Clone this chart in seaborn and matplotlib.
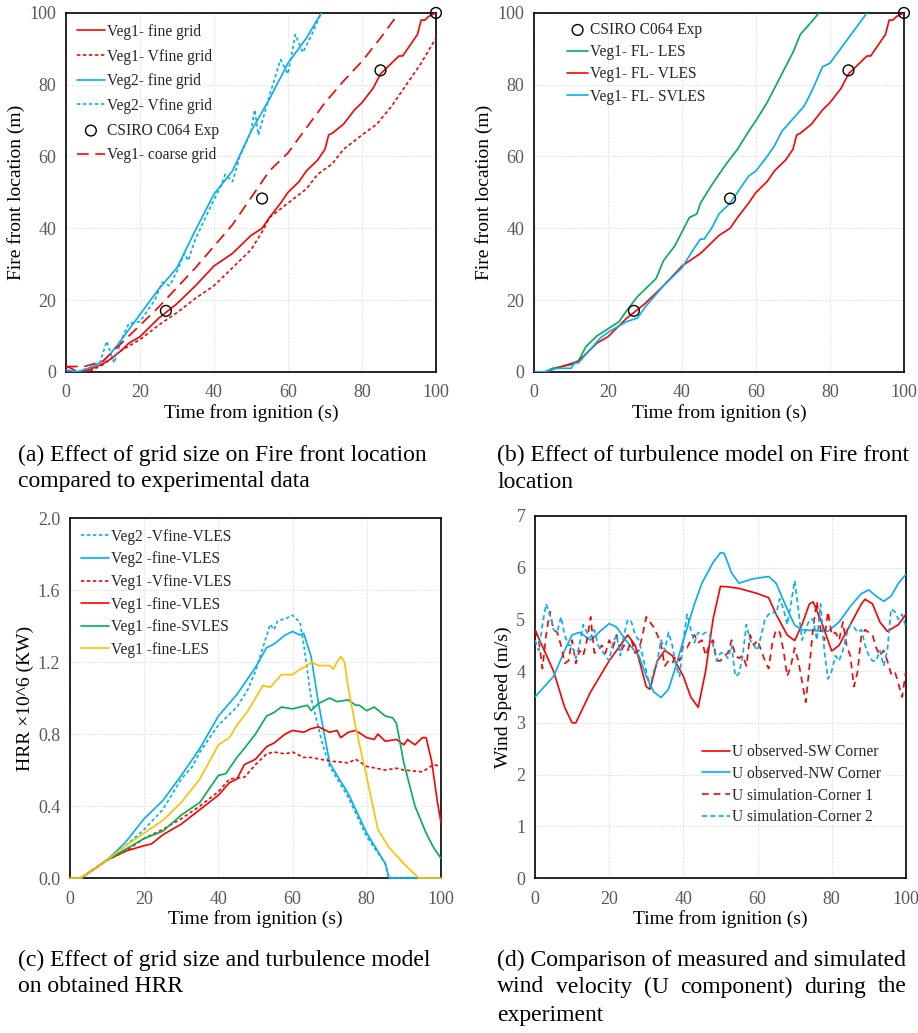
import numpy as np
import pandas as pd
import seaborn as sns
import matplotlib.pyplot as plt

# ---- (a) fire front location, grid size ----
t_v1_fine = [0, 1, 3, 6, 10, 12, 15, 17, 20, 25, 30, 35, 40, 45, 50, 53, 55, 58, 60, 63, 65, 68, 70, 71, 72, 75, 78, 80, 83, 85, 88, 90, 91, 93, 95, 96, 97, 98, 100]
y_v1_fine = [1.5, 1.2, 0, 0.5, 2.3, 3.5, 6, 8, 9.8, 14.9, 19, 24, 29.5, 33, 38, 40, 43, 47, 50, 53, 56, 59, 62, 66, 66.5, 69, 73, 75, 79, 83, 86, 88, 88, 91, 94, 98, 98, 99, 100]
t_v1_vfine = [0, 3, 6, 10, 15, 20, 25, 30, 35, 40, 45, 50, 53, 55, 60, 65, 68, 72, 75, 80, 84, 88, 92, 96, 100]
y_v1_vfine = [0, 0, 0, 2, 6, 9, 13, 16.5, 20.5, 24, 29, 34, 39, 43, 47, 51, 55, 58, 62, 66, 69, 74, 80, 86, 93]
t_v1_coarse = [0, 5, 10, 15, 20, 25, 30, 35, 40, 45, 50, 55, 60, 65, 70, 75, 80, 85, 90]
y_v1_coarse = [1.5, 1.5, 3, 8, 13, 18, 23.5, 29, 35, 41, 48.5, 56, 61, 68, 75, 81, 86.5, 93, 100]
t_v2_fine = [0, 3, 6, 10, 12, 15, 20, 25, 30, 35, 40, 45, 50, 55, 60, 65, 69]
y_v2_fine = [0.5, 0, 1, 3, 5, 9, 16, 23, 29, 39.5, 49.5, 56, 67, 76, 86, 93, 100]
t_v2_vfine = [0, 3, 6, 9, 11, 13, 15, 17, 20, 24, 26, 28, 30, 32, 33, 35, 40, 42, 43, 45, 47, 50, 51, 52, 55, 58, 60, 62, 64, 66, 69]
y_v2_vfine = [0.5, 0, 1, 2, 8.5, 2.5, 9, 13.5, 14, 20, 25, 24, 28, 33, 31, 37, 48, 52, 55, 53, 60, 67, 73, 66, 77, 87, 83, 94, 89, 93, 100]
t_exp = [27, 53, 85, 100]
y_exp = [17, 48.3, 84, 100]

# ---- (b) fire front location, turbulence model ----
t_les = [0, 3, 5, 10, 12, 14, 17, 20, 23, 25, 28, 30, 33, 35, 38, 40, 42, 44, 45, 48, 50, 52, 55, 58, 60, 63, 65, 68, 70, 72, 75, 77]
y_les = [0, 0, 1, 2, 3, 7, 10, 12, 14, 17, 21, 23, 26, 31, 35, 39, 43, 44, 47, 52, 55, 58, 62, 67, 70, 75, 79, 85, 89, 94, 97.5, 100]
t_vles = [0, 3, 6, 10, 12, 15, 17, 20, 25, 30, 35, 40, 45, 50, 53, 55, 58, 60, 63, 65, 68, 70, 71, 72, 75, 78, 80, 83, 85, 88, 90, 91, 93, 95, 96, 97, 98, 100]
y_vles = [0, 0, 1, 2.3, 3, 6, 8, 9.8, 14.9, 19, 24, 29.5, 33, 38, 40, 43, 47, 50, 53, 56, 59, 62, 66, 66.5, 69, 73, 75, 79, 83, 86, 88, 88, 91, 94, 98, 98, 99, 100]
t_sv = [0, 3, 6, 10, 11, 12, 15, 18, 20, 25, 28, 30, 35, 40, 43, 45, 46, 48, 50, 53, 55, 58, 60, 63, 65, 67, 70, 73, 75, 78, 80, 85, 90]
y_sv = [0, 0, 1, 1, 2.5, 2.5, 6, 9.5, 11, 14, 15, 18, 24, 29, 34, 37, 37, 40, 44, 47, 50, 54.5, 56, 60, 63, 67, 70.5, 74, 78, 85, 86, 93, 100]

# ---- (c) HRR ----
t_c1 = [0, 3, 5, 10, 15, 20, 25, 30, 33, 35, 40, 45, 48, 50, 52, 54, 55, 56, 58, 60, 62, 63, 65, 68, 70, 75, 80, 85, 86, 100]
h_v2_vfine = [0, 0, 0.03, 0.1, 0.18, 0.27, 0.38, 0.55, 0.62, 0.7, 0.85, 0.95, 1.05, 1.15, 1.28, 1.41, 1.38, 1.43, 1.44, 1.46, 1.42, 1.3, 1.0, 0.75, 0.62, 0.45, 0.23, 0.08, 0.0, 0.0]
t_c2 = [0, 3, 10, 15, 20, 25, 30, 35, 40, 45, 50, 53, 55, 58, 60, 62, 63, 65, 67, 70, 72, 75, 80, 85, 86, 100]
h_v2_fine = [0, 0, 0.1, 0.2, 0.33, 0.43, 0.57, 0.72, 0.9, 1.02, 1.17, 1.28, 1.3, 1.35, 1.37, 1.35, 1.36, 1.23, 0.97, 0.64, 0.57, 0.47, 0.25, 0.08, 0.0, 0.0]
t_c3 = [0, 3, 10, 15, 20, 25, 30, 35, 40, 43, 47, 50, 53, 55, 58, 60, 63, 65, 70, 75, 77, 80, 85, 88, 90, 95, 98, 100]
h_v1_vfine = [0, 0, 0.1, 0.15, 0.22, 0.27, 0.33, 0.4, 0.48, 0.55, 0.56, 0.63, 0.69, 0.7, 0.69, 0.7, 0.67, 0.67, 0.65, 0.64, 0.66, 0.62, 0.6, 0.61, 0.6, 0.59, 0.63, 0.62]
t_c4 = [0, 3, 10, 15, 20, 22, 25, 30, 35, 40, 43, 45, 47, 50, 53, 55, 58, 60, 63, 65, 67, 70, 72, 73, 75, 77, 80, 82, 83, 85, 88, 90, 91, 93, 95, 96, 97.5, 99, 100]
h_v1_fine = [0, 0, 0.1, 0.15, 0.18, 0.19, 0.24, 0.3, 0.38, 0.46, 0.53, 0.55, 0.63, 0.66, 0.73, 0.75, 0.8, 0.82, 0.81, 0.83, 0.84, 0.81, 0.82, 0.78, 0.81, 0.82, 0.78, 0.77, 0.8, 0.76, 0.77, 0.74, 0.77, 0.74, 0.78, 0.78, 0.65, 0.43, 0.31]
t_c5 = [0, 3, 10, 15, 20, 25, 30, 35, 40, 42, 45, 47, 50, 53, 55, 57, 60, 62, 64, 65, 67, 70, 72, 75, 77, 78, 80, 82, 85, 87, 88, 90, 93, 96, 98, 100]
h_svles = [0, 0, 0.1, 0.16, 0.22, 0.26, 0.35, 0.42, 0.57, 0.58, 0.67, 0.72, 0.8, 0.9, 0.92, 0.95, 0.94, 0.95, 0.96, 0.93, 0.97, 1.0, 0.98, 0.99, 0.96, 0.96, 0.93, 0.95, 0.9, 0.89, 0.86, 0.64, 0.4, 0.25, 0.17, 0.11]
t_c6 = [0, 3, 10, 15, 20, 25, 30, 35, 40, 43, 45, 48, 50, 52, 54, 57, 60, 62, 64, 65, 67, 70, 71, 72, 73, 74, 75, 77, 80, 83, 86, 90, 94, 100]
h_les = [0, 0, 0.1, 0.18, 0.25, 0.32, 0.42, 0.55, 0.74, 0.78, 0.85, 0.93, 1.0, 1.07, 1.06, 1.13, 1.13, 1.16, 1.18, 1.2, 1.18, 1.18, 1.16, 1.2, 1.23, 1.2, 1.06, 0.84, 0.56, 0.27, 0.17, 0.08, 0.0, 0.0]

# ---- (d) wind speed ----
t_sw = [0, 5, 8, 10, 11, 13, 15, 20, 25, 27, 30, 31, 33, 35, 37, 40, 42, 44, 46, 48, 50, 52, 55, 60, 63, 65, 68, 70, 72, 74, 75, 77, 80, 82, 85, 88, 89, 91, 93, 95, 98, 100]
u_sw = [4.8, 4.0, 3.3, 3.0, 3.0, 3.3, 3.6, 4.2, 4.7, 4.5, 3.7, 3.65, 4.2, 4.4, 4.3, 3.9, 3.5, 3.3, 4.0, 5.0, 5.64, 5.63, 5.6, 5.5, 5.42, 5.1, 4.7, 4.59, 4.9, 5.3, 5.34, 5.0, 4.39, 4.5, 4.9, 5.3, 5.39, 5.3, 4.95, 4.77, 4.9, 5.1]
t_nw = [0, 5, 8, 10, 12, 15, 18, 20, 22, 25, 28, 30, 32, 34, 36, 38, 40, 43, 45, 48, 50, 51, 53, 55, 58, 60, 63, 65, 68, 70, 72, 76, 79, 82, 85, 88, 90, 92, 94, 96, 98, 100]
u_nw = [3.5, 3.9, 4.4, 4.7, 4.75, 4.6, 4.8, 4.92, 4.85, 4.55, 4.3, 3.9, 3.6, 3.49, 3.65, 4.1, 4.6, 5.3, 5.7, 6.1, 6.29, 6.28, 5.9, 5.7, 5.77, 5.8, 5.83, 5.7, 5.2, 4.89, 4.8, 4.78, 4.77, 4.95, 5.25, 5.5, 5.57, 5.45, 5.35, 5.45, 5.7, 5.87]
t_sim = list(range(0, 101))
u_sim1 = [4.8, 4.6, 4.05, 4.7, 5.15, 4.8, 4.75, 4.5, 4.15, 4.2, 4.6, 4.15, 4.4, 4.3, 4.6, 5.05, 4.35, 4.4, 4.5, 4.35,
          4.6, 4.45, 4.7, 4.35, 4.5, 4.4, 4.6, 4.35, 4.4, 4.7, 5.05, 4.95, 4.85, 4.7, 4.5, 4.1, 4.2, 4.15, 4.3, 4.2,
          4.5, 4.45, 4.6, 4.7, 4.55, 4.6, 4.3, 4.5, 4.6, 4.2, 4.2, 4.3, 4.35, 4.6, 4.3, 4.25, 4.3, 4.1, 4.7, 4.5,
          4.6, 4.4, 4.2, 4.05, 4.55, 4.8, 4.75, 4.4, 3.9, 4.1, 4.45, 4.2, 3.8, 3.4, 4.1, 4.85, 5.35, 4.8, 4.6, 5.15,
          4.7, 4.75, 4.6, 4.95, 4.5, 4.3, 3.7, 4.0, 4.7, 4.8, 4.75, 4.7, 4.45, 4.3, 4.4, 4.2, 3.95, 4.0, 3.75, 3.5, 4.0]
u_sim2 = [4.6, 4.4, 4.9, 5.3, 5.1, 4.8, 4.75, 5.05, 4.7, 4.5, 4.5, 4.25, 4.5, 4.9, 4.75, 4.65, 4.8, 4.5, 4.4, 4.3,
          4.2, 4.55, 4.7, 4.3, 4.7, 5.0, 4.95, 4.7, 4.6, 4.3, 4.0, 3.7, 4.0, 4.2, 4.6, 4.4, 4.75, 4.5, 4.1, 3.9,
          4.6, 5.1, 4.8, 4.55, 4.75, 4.7, 4.75, 4.7, 4.5, 4.2, 4.35, 4.35, 4.25, 4.5, 3.9, 3.95, 4.3, 4.9, 4.6, 4.5,
          4.4, 4.7, 5.0, 5.1, 5.15, 5.1, 5.4, 5.2, 4.9, 5.3, 5.75, 5.2, 4.6, 4.8, 5.0, 5.0, 4.6, 5.3, 4.4, 3.85,
          4.0, 4.3, 4.2, 4.4, 4.7, 4.9, 4.85, 4.75, 4.8, 4.5, 4.3, 4.2, 4.2, 4.4, 4.1, 4.4, 5.2, 5.15, 5.0, 5.1, 4.85]

captions = {
    "a": ["(a) Effect of grid size on Fire front location", "compared to experimental data"],
    "b": ["(b) Effect of turbulence model on Fire front", "location"],
    "c": ["(c) Effect of grid size and turbulence model", "on obtained HRR"],
    "d": ["(d) Comparison of measured and simulated", "wind velocity (U component) during the", "experiment"],
}

RED = "#FF0000"
BLUE = "#00B0F0"
GREEN = "#00B050"
GOLD = "#FFC000"
DOT = (0, (2, 1.6))

sns.set_theme(style="white")
plt.rcParams["font.family"] = ["Liberation Serif", "DejaVu Serif"]

fig = plt.figure(figsize=(9.18, 10.33), dpi=100)
ax_a = fig.add_axes([0.0719, 0.640, 0.403, 0.3475])
ax_b = fig.add_axes([0.5817, 0.640, 0.403, 0.3475])
ax_c = fig.add_axes([0.0763, 0.150, 0.404, 0.3485])
ax_d = fig.add_axes([0.5828, 0.150, 0.404, 0.3505])


def line(ax, x, y, color, label, ls="-", clip=True):
    sns.lineplot(x=x, y=y, ax=ax, color=color, linestyle=ls, linewidth=1.2, label=label,
                 clip_on=clip, zorder=3)


def exp_points(ax):
    sns.scatterplot(x=t_exp, y=y_exp, ax=ax, marker="o", s=60, facecolor="none",
                    edgecolor="black", linewidth=1.0, label="CSIRO C064 Exp", zorder=5, clip_on=False)


def style(ax, ylim, yticks, ylabel, yfmt="{:g}"):
    ax.set_xlim(0, 100)
    ax.set_ylim(*ylim)
    ax.set_xticks(range(0, 101, 20))
    ax.set_yticks(yticks)
    ax.set_yticklabels([yfmt.format(v) for v in yticks])
    ax.grid(True, color="#d9d9d9", linestyle=(0, (1, 1.5)), linewidth=0.8)
    for s in ax.spines.values():
        s.set_color("black")
        s.set_linewidth(1.2)
    ax.tick_params(axis="both", labelsize=13, colors="#595959", length=4, width=0.8)
    ax.tick_params(axis="x", direction="in", pad=9)
    ax.tick_params(axis="y", direction="out", pad=3)
    ax.set_xlabel("Time from ignition (s)", fontsize=14, color="black", labelpad=2)
    ax.set_ylabel(ylabel, fontsize=14, color="black", labelpad=3)


def legend(ax, order, **kw):
    h, l = ax.get_legend_handles_labels()
    d = dict(zip(l, h))
    ax.legend([d[k] for k in order], order, frameon=False, fontsize=11.2,
              handletextpad=0.15, borderaxespad=0.3, **kw)


# (a)
line(ax_a, t_v1_fine, y_v1_fine, RED, "Veg1- fine grid")
line(ax_a, t_v1_vfine, y_v1_vfine, RED, "Veg1- Vfine grid", DOT)
line(ax_a, t_v2_fine, y_v2_fine, BLUE, "Veg2- fine grid")
line(ax_a, t_v2_vfine, y_v2_vfine, BLUE, "Veg2- Vfine grid", DOT)
exp_points(ax_a)
line(ax_a, t_v1_coarse, y_v1_coarse, RED, "Veg1- coarse grid", (0, (7, 4)))
style(ax_a, (0, 100), list(range(0, 101, 20)), "Fire front location (m)")
legend(ax_a, ["Veg1- fine grid", "Veg1- Vfine grid", "Veg2- fine grid", "Veg2- Vfine grid",
              "CSIRO C064 Exp", "Veg1- coarse grid"],
       loc="upper left", handlelength=1.8, labelspacing=0.56, bbox_to_anchor=(0.0, 1.0))

# (b)
exp_points(ax_b)
line(ax_b, t_les, y_les, GREEN, "Veg1- FL- LES")
line(ax_b, t_vles, y_vles, RED, "Veg1- FL- VLES")
line(ax_b, t_sv, y_sv, BLUE, "Veg1- FL- SVLES")
style(ax_b, (0, 100), list(range(0, 101, 20)), "Fire front location (m)")
legend(ax_b, ["CSIRO C064 Exp", "Veg1- FL- LES", "Veg1- FL- VLES", "Veg1- FL- SVLES"],
       loc="upper left", handlelength=1.35, labelspacing=0.4, bbox_to_anchor=(0.06, 1.005))

# (c)
line(ax_c, t_c1, h_v2_vfine, BLUE, "Veg2 -Vfine-VLES", DOT, clip=False)
line(ax_c, t_c2, h_v2_fine, BLUE, "Veg2 -fine-VLES", clip=False)
line(ax_c, t_c3, h_v1_vfine, RED, "Veg1 -Vfine-VLES", DOT, clip=False)
line(ax_c, t_c4, h_v1_fine, RED, "Veg1 -fine-VLES", clip=False)
line(ax_c, t_c5, h_svles, GREEN, "Veg1 -fine-SVLES", clip=False)
line(ax_c, t_c6, h_les, GOLD, "Veg1 -fine-LES", clip=False)
style(ax_c, (0, 2.0), [0, 0.4, 0.8, 1.2, 1.6, 2.0], "HRR ×10^6 (KW)", "{:.1f}")
legend(ax_c, ["Veg2 -Vfine-VLES", "Veg2 -fine-VLES", "Veg1 -Vfine-VLES", "Veg1 -fine-VLES",
              "Veg1 -fine-SVLES", "Veg1 -fine-LES"],
       loc="upper left", handlelength=1.8, labelspacing=0.42, bbox_to_anchor=(0.0, 1.0))

# (d)
line(ax_d, t_sw, u_sw, RED, "U observed-SW Corner")
line(ax_d, t_nw, u_nw, BLUE, "U observed-NW Corner")
line(ax_d, t_sim, u_sim1, RED, "U simulation-Corner 1", (0, (4, 3)))
line(ax_d, t_sim, u_sim2, BLUE, "U simulation-Corner 2", (0, (3, 2)))
style(ax_d, (0, 7), list(range(0, 8)), "Wind Speed (m/s)")
legend(ax_d, ["U observed-SW Corner", "U observed-NW Corner", "U simulation-Corner 1",
              "U simulation-Corner 2"],
       loc="upper left", handlelength=1.8, labelspacing=0.37, bbox_to_anchor=(0.42, 0.4))

# captions (last-but-one line of (d) is justified to the column width)
cap = dict(fontsize=17, va="center", ha="left", color="black")
renderer = fig.canvas.get_renderer()


def justified(x0, x1, y, text):
    words = text.split()
    arts = [fig.text(0, y, w, **cap) for w in words]
    widths = [a.get_window_extent(renderer).width for a in arts]
    gap = (x1 - x0 - sum(widths)) / (len(words) - 1)
    x = x0
    for a, w in zip(arts, widths):
        a.set_x(x / 918)
        x += w + gap


rows = [455, 482, 510]
for key, x0 in [("a", 18), ("b", 497)]:
    for i, txt in enumerate(captions[key]):
        fig.text(x0 / 918, 1 - rows[i] / 1033, txt, **cap)
rows = [960, 987, 1015]
fig.text(18 / 918, 1 - rows[0] / 1033, captions["c"][0], **cap)
fig.text(18 / 918, 1 - rows[1] / 1033, captions["c"][1], **cap)
fig.text(497 / 918, 1 - rows[0] / 1033, captions["d"][0], **cap)
justified(497, 907, 1 - rows[1] / 1033, captions["d"][1])
fig.text(497 / 918, 1 - rows[2] / 1033, captions["d"][2], **cap)

fig.savefig("out.png", dpi=100)
